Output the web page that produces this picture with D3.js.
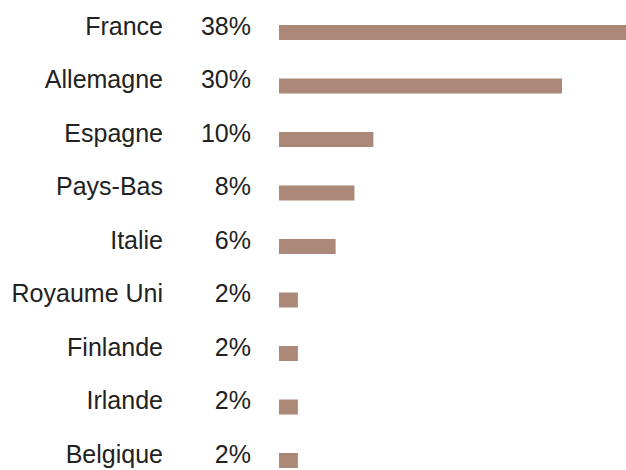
<!DOCTYPE html>
<html>
<head>
<style>
  body {
    background-color: white;
    margin: 0px;
  }
  text {
    font-family: "Liberation Sans", Arial, sans-serif;
    font-size: 25px;
    fill: #222;
  }
</style>
<script src="https://d3js.org/d3.v7.min.js"></script>
</head>
<body>
  <svg></svg>
</body>
<script>
const countries = ["France", "Allemagne", "Espagne", "Pays-Bas", "Italie",
    "Royaume Uni", "Finlande", "Irlande", "Belgique"];
const shares = [38, 30, 10, 8, 6, 2, 2, 2, 2];
const shareLabels = ["38%", "30%", "10%", "8%", "6%", "2%", "2%", "2%", "2%"];

const width = 626,
    height = 470;

const svg = d3.select("svg")
    .attr("width", width)
    .attr("height", height)
    .style("display", "block");

// bars start at 279, France runs past the right edge
const x = d3.scaleLinear().domain([0, 30]).range([279, 562]);
const y = d3.scalePoint().domain(countries).range([25, 453]);
const barH = 15;

const rows = svg.selectAll("g.row")
    .data(countries)
  .enter().append("g")
    .attr("class", "row")
    .attr("transform", function(d) {return "translate(0, " + y(d) + ")"});

rows.append("rect")
    .attr("x", x(0))
    .attr("y", 0)
    .attr("width", function(d, i) {return Math.min(x(shares[i]), width) - x(0)})
    .attr("height", barH)
    .style("fill", "#ac8878");

rows.append("text")
    .attr("x", 163)
    .attr("y", 9.5)
    .attr("text-anchor", "end")
    .text(function(d) {return d});

rows.append("text")
    .attr("x", 251)
    .attr("y", 9.5)
    .attr("text-anchor", "end")
    .text(function(d, i) {return shareLabels[i]});
</script>
</html>
